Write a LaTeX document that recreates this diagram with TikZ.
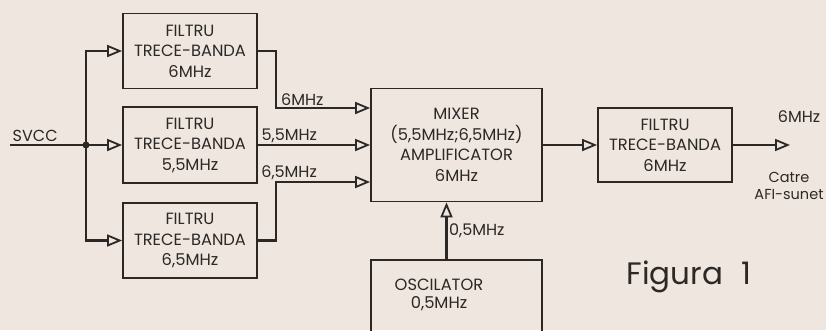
\documentclass[tikz,border=0pt]{standalone}
\usepackage{fontspec}
\setmainfont{Poppins}
\usepackage{tikz}
\usetikzlibrary{arrows.meta, positioning}
\usepackage{xcolor}
\definecolor{paper}{HTML}{EEE6DF}
\definecolor{ink}{HTML}{2B2826}

\begin{document}
\begin{tikzpicture}[
    x=1pt, y=-1pt,
    box/.style={rectangle, draw=ink, line width=1.8pt, inner sep=0pt,
                minimum width=134pt, minimum height=75pt,
                font=\fontsize{16.3}{20.5}\selectfont, text=ink, align=center},
    arr/.style={-{Triangle[open, length=15pt, width=12pt, line width=1.8pt]},
                line width=2.2pt, draw=ink},
    wire/.style={line width=2.2pt, draw=ink},
    lbl/.style={font=\fontsize{16}{18}\selectfont, text=ink, inner sep=1.5pt}
  ]
    \path[use as bounding box, fill=paper] (0,0) rectangle (826,330);
    \clip (0,0) rectangle (826,330);

    \node[box] (f6) at (190,51) {FILTRU\\TRECE-BANDA\\6MHz};
    \node[box, minimum height=76pt] (f55) at (190,145) {FILTRU\\TRECE-BANDA\\5,5MHz};
    \node[box] (f65) at (190,240.5) {FILTRU\\TRECE-BANDA\\6,5MHz};

    \node[box, minimum width=171pt, minimum height=113pt] (mix) at (456.5,145)
      {MIXER\\(5,5MHz;6,5MHz)\\AMPLIFICATOR\\6MHz};
    \node[box, minimum height=74pt] (fout) at (665,145) {FILTRU\\TRECE-BANDA\\6MHz};

    \node[box, minimum width=171pt, minimum height=120pt, anchor=north] (osc) at (456.5,259) {};
    \node[box, draw=none, minimum width=0pt, minimum height=0pt,
          font=\fontsize{16.3}{18}\selectfont] (osctxt) at (439,295)
      {OSCILATOR\\0,5MHz};

    \coordinate (in) at (10,145);
    \coordinate (j) at (86,145);
    \coordinate (m1) at ([yshift=37pt]mix.west);
    \coordinate (m3) at ([yshift=-37pt]mix.west);
    \coordinate (out) at (790,145);

    \node[lbl, anchor=south west] (svcc) at (11,143) {SVCC};
    \draw[wire] (in) -- (j);
    \fill[ink] (j) circle (3.5pt);

    \draw[arr] (j) |- (f6);
    \draw[arr] (j) -- (f55);
    \draw[arr] (j) |- (f65);

    \draw[arr] (f6.east) -- ++(18,0) |- node[lbl, pos=0.64, above] (l6) {6MHz} (m1);
    \draw[arr] (f55) -- node[lbl, pos=0.28, above] (l55) {5,5MHz} (mix);
    \draw[arr] (f65.east) -- ++(18,0) |- node[lbl, pos=0.57, above] (l65) {6,5MHz} (m3);

    \draw[arr] (mix) -- (fout);
    \draw[arr] (fout) -- (out);
    \node[lbl] (o6) at (799,117) {6MHz};
    \node[lbl, align=center, font=\fontsize{14.5}{17}\selectfont] (catre) at (789,186) {Catre\\AFI-sunet};

    \draw[arr] ([xshift=-10pt]osc.north) -- node[lbl, right] (l05) {0,5MHz} ([xshift=-10pt]mix.south);

    \node[font=\fontsize{31}{36}\selectfont, text=ink] (fig) at (689,277) {Figura\hspace{0.6em}1};
  \end{tikzpicture}
\end{document}
